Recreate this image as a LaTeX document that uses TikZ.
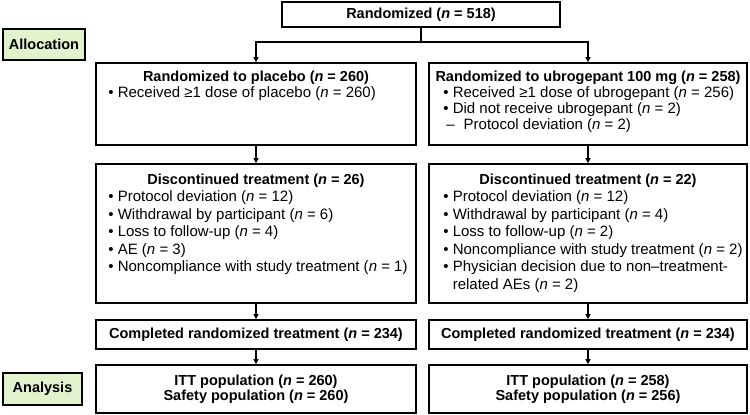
\documentclass[tikz,border=0pt]{standalone}
\usepackage{fontspec}
\setmainfont{Liberation Sans}
\usetikzlibrary{positioning,arrows.meta}
\definecolor{phasegreen}{HTML}{E2F2CC}
\newcommand{\boxfont}{\fontsize{14.5}{15.5}\selectfont}
\newcommand{\listfont}{\fontsize{15}{16}\selectfont}
\newcommand{\nn}{\textit{n}}
\tikzset{
  flowarrow/.style={-{Triangle[length=5pt,width=5pt]}, line width=1.2pt},
  flowline/.style={line width=1.2pt},
  stagebox/.style={draw, line width=1.6pt, inner sep=0pt, align=center, font=\boxfont\bfseries},
  phasebox/.style={draw, line width=1.4pt, fill=phasegreen, inner sep=0pt, align=center, font=\boxfont\bfseries},
  headtext/.style={inner sep=0pt, font=\boxfont\bfseries, text height=11pt, text depth=3.5pt},
  listtext/.style={inner sep=0pt, align=left, font=\listfont}
}

\begin{document}
\begin{tikzpicture}[x=1pt, y=-1pt]
  \useasboundingbox (0,0) rectangle (750,415);
  % phase labels
  \node[phasebox, minimum width=82pt, minimum height=31pt] (alloc) at (44,44.5) {Allocation};
  \node[phasebox, minimum width=79pt, minimum height=32pt] (anal) at (42.5,389) {Analysis};
  % enrolment
  \node[stagebox, minimum width=278pt, minimum height=25pt] (rand) at (421,14.5) {Randomized (\nn{} = 518)};
  % allocation boxes
  \node[stagebox, minimum width=320pt, minimum height=82pt] (plac) at (256,104) {};
  \node[stagebox, minimum width=318pt, minimum height=82pt] (ubro) at (588,104) {};
  \node[headtext, below=8.5pt of plac.north] (placH) {Randomized to placebo (\nn{} = 260)};
  \node[headtext, below=8.5pt of ubro.north] (ubroH) {Randomized to ubrogepant 100 mg (\nn{} = 258)};
  \node[listtext, below right=24pt and 13pt of plac.north west] (placL)
    {\textbullet\ Received ≥1 dose of placebo (\nn{} = 260)};
  \node[listtext, below right=24pt and 15pt of ubro.north west] (ubroL)
    {\textbullet\ Received ≥1 dose of ubrogepant (\nn{} = 256)\\
     \textbullet\ Did not receive ubrogepant (\nn{} = 2)\\
     \hspace*{3pt}–\hspace{9pt}Protocol deviation (\nn{} = 2)};
  % discontinued
  \node[stagebox, minimum width=320pt, minimum height=139pt] (discP) at (256,233.5) {};
  \node[stagebox, minimum width=318pt, minimum height=139pt] (discU) at (588,233.5) {};
  \node[headtext, below=10pt of discP.north] (discPH) {Discontinued treatment (\nn{} = 26)};
  \node[headtext, below=10pt of discU.north] (discUH) {Discontinued treatment (\nn{} = 22)};
  \node[listtext, below right=27.5pt and 13pt of discP.north west] (discPL)
    {\textbullet\ Protocol deviation (\nn{} = 12)\\[1.5pt]
     \textbullet\ Withdrawal by participant (\nn{} = 6)\\[1.5pt]
     \textbullet\ Loss to follow-up (\nn{} = 4)\\[1.5pt]
     \textbullet\ AE (\nn{} = 3)\\[1.5pt]
     \textbullet\ Noncompliance with study treatment (\nn{} = 1)};
  \node[listtext, below right=27.5pt and 15pt of discU.north west] (discUL)
    {\textbullet\ Protocol deviation (\nn{} = 12)\\[1.5pt]
     \textbullet\ Withdrawal by participant (\nn{} = 4)\\[1.5pt]
     \textbullet\ Loss to follow-up (\nn{} = 2)\\[1.5pt]
     \textbullet\ Noncompliance with study treatment (\nn{} = 2)\\[1.5pt]
     \textbullet\ Physician decision due to non–treatment-\\[1.5pt]
     \hphantom{\textbullet\ }related AEs (\nn{} = 2)};
  % completed and analysis
  \node[stagebox, minimum width=320pt, minimum height=29pt] (compP) at (256,334.5) {Completed randomized treatment (\nn{} = 234)};
  \node[stagebox, minimum width=318pt, minimum height=29pt] (compU) at (588,334.5) {Completed randomized treatment (\nn{} = 234)};
  \node[stagebox, minimum width=320pt, minimum height=48pt] (ittP) at (256,389) {ITT population (\nn{} = 260)\\ Safety population (\nn{} = 260)};
  \node[stagebox, minimum width=318pt, minimum height=48pt] (ittU) at (588,389) {ITT population (\nn{} = 258)\\ Safety population (\nn{} = 256)};
  % connectors
  \coordinate (jn) at (421,42);
  \draw[flowline] (rand.south) -- (jn);
  \draw[flowarrow] (jn) -| (plac.north);
  \draw[flowarrow] (jn) -| (ubro.north);
  \draw[flowarrow] (plac.south) -- (discP.north);
  \draw[flowarrow] (ubro.south) -- (discU.north);
  \draw[flowarrow] (discP.south) -- (compP.north);
  \draw[flowarrow] (discU.south) -- (compU.north);
  \draw[flowarrow] (compP.south) -- (ittP.north);
  \draw[flowarrow] (compU.south) -- (ittU.north);
\end{tikzpicture}
\end{document}
